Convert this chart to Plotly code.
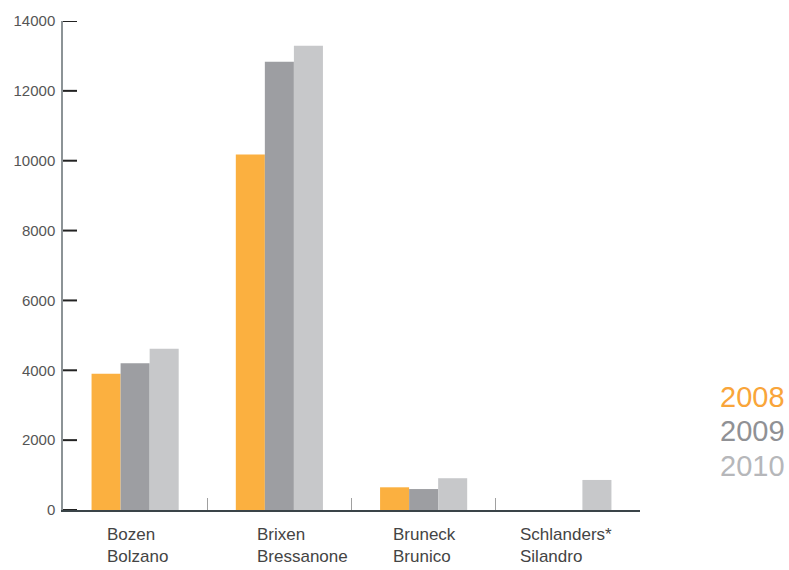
import plotly.graph_objects as go

categories = ["Bozen<br>Bolzano", "Brixen<br>Bressanone", "Bruneck<br>Brunico", "Schlanders*<br>Silandro"]
years = ["2008", "2009", "2010"]
values_2008 = [3900, 10180, 650, None]
values_2009 = [4200, 12830, 600, None]
values_2010 = [4620, 13290, 910, 860]
bar_colors = ["#fbb040", "#9d9ea2", "#c7c8ca"]
legend_colors = ["#f9a53a", "#909195", "#b6b7ba"]
y_ticks = [0, 2000, 4000, 6000, 8000, 10000, 12000, 14000]
y_tick_text = ["0", "2000", "4000", "6000", "8000", "10000", "12000", "14000"]

# pixel shift of each category label's left edge relative to category centre (style)
label_shifts = [-30, -24, -33, -50]

series = [values_2008, values_2009, values_2010]
xidx = list(range(len(categories)))
boundaries = [i + 0.5 for i in xidx]

fig = go.Figure()
for name, vals, col in zip(years, series, bar_colors):
    fig.add_trace(go.Bar(x=xidx, y=vals, name=name, marker=dict(color=col, line=dict(width=0)),
                         hoverinfo="skip", showlegend=False))

font_family = "Liberation Sans, Arial, Helvetica, sans-serif"

annotations = []
for i, cat in enumerate(categories):
    annotations.append(dict(x=i, y=0, xref="x", yref="y", text=cat, showarrow=False,
                            xanchor="left", yanchor="top", align="left", yshift=-13,
                            xshift=label_shifts[i],
                            font=dict(family=font_family, size=17, color="#444444")))
for k, (yr, col) in enumerate(zip(years, legend_colors)):
    annotations.append(dict(x=1, y=0.232 - k * 0.0712, xref="paper", yref="paper", text=yr,
                            showarrow=False, xanchor="left", yanchor="middle", xshift=78,
                            font=dict(family=font_family, size=29, color=col)))

# inward y-axis tick marks, one per tick value
shapes = [dict(type="line", xref="x domain", yref="y", x0=0, x1=14 / 577, y0=v, y1=v,
               line=dict(color="#222222", width=2), layer="above") for v in y_ticks]

fig.update_layout(
    width=789, height=570,
    margin=dict(l=63, r=149, t=19, b=60),
    paper_bgcolor="white", plot_bgcolor="white",
    barmode="group", bargap=0.396, bargroupgap=0,
    font=dict(family=font_family),
    annotations=annotations,
    shapes=shapes,
    xaxis=dict(range=[-0.5, 3.5], tickvals=boundaries, ticktext=[""] * len(boundaries),
               ticks="inside", ticklen=12, tickwidth=1, tickcolor="#a0a0a0",
               showline=True, linecolor="#3a4448", linewidth=1.5, showgrid=False, zeroline=False),
    yaxis=dict(range=[0, 14000], tickvals=y_ticks, ticktext=y_tick_text, ticks="",
               showline=True, linecolor="#8c9396", linewidth=1.5, showgrid=False, zeroline=False,
               ticklabelstandoff=3,
               tickfont=dict(family=font_family, size=15, color="#555555")),
)

fig.write_html("out.html")
